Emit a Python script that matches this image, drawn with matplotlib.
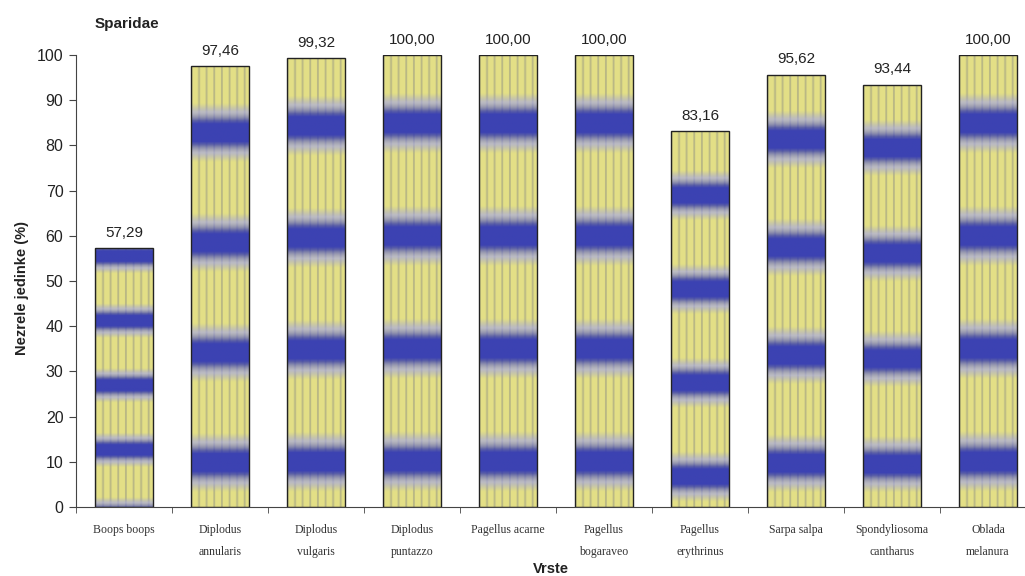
import numpy as np
import matplotlib.pyplot as plt
from matplotlib.patches import Rectangle

species = ["Boops boops", "Diplodus\nannularis", "Diplodus\nvulgaris", "Diplodus\npuntazzo",
           "Pagellus acarne", "Pagellus\nbogaraveo", "Pagellus\nerythrinus", "Sarpa salpa",
           "Spondyliosoma\ncantharus", "Oblada\nmelanura"]
immature_pct = [57.29, 97.46, 99.32, 100.00, 100.00, 100.00, 83.16, 95.62, 93.44, 100.00]

# band offset of the fill texture (fraction of bar height), per bar
band_phase = [-0.03, 0.1, 0.1, 0.1, 0.1, 0.1, 0.08, 0.1, 0.1, 0.1]

yellow = np.array([232, 228, 118]) / 255
stripe = np.array([140, 140, 115]) / 255
blue = np.array([60, 66, 178]) / 255
lavender = np.array([198, 198, 234]) / 255


def bar_texture(phase, nrows=400, ncols=60):
    t = np.linspace(0, 1, nrows)[:, None]          # 0 = bottom
    xx = np.linspace(0, 1, ncols)[None, :]
    # 4 blue bands over the bar height
    u = (t * 4 - phase * 4) % 1.0
    d = np.minimum(u, 1 - u)                          # distance to band centre
    w = np.clip((0.27 - d) / 0.19, 0, 1)
    w = w ** 1.3
    # vertical thin stripes
    s = np.clip(np.cos(2 * np.pi * xx * 7.5) * 2.0 - 1.0, 0, 1) * 0.6
    base = yellow * (1 - s[..., None]) + stripe * s[..., None]
    base = np.broadcast_to(base, (nrows, ncols, 3))
    mid = np.clip(1 - np.abs(w - 0.35) * 2.2, 0, 1)[..., None] * 0.6
    img = base * (1 - w[..., None]) + blue * w[..., None]
    img = img * (1 - mid) + lavender * mid
    return img[::-1]


fig = plt.figure(figsize=(10.25, 5.76), dpi=100)
ax = fig.add_axes([76 / 1025, 0.1198, 960 / 1025, 0.7847])

x = np.arange(len(species))
bw = 0.6
bars = ax.bar(x, immature_pct, width=bw, facecolor='none', edgecolor='#222222', linewidth=1.0, zorder=3)
for i, (b, v) in enumerate(zip(bars, immature_pct)):
    img = bar_texture(band_phase[i])
    im = ax.imshow(img, extent=[x[i] - bw / 2, x[i] + bw / 2, 0, v], aspect='auto',
                   interpolation='bilinear', zorder=2)
    clip = Rectangle((x[i] - bw / 2, 0), bw, v, transform=ax.transData)
    im.set_clip_path(clip)
    ax.annotate(f"{v:.2f}".replace('.', ','), (x[i], v), xytext=(0, 6), textcoords='offset points',
                ha='center', va='bottom', fontsize=11, family='Liberation Sans', color='#222222')

ax.set_xlim(-0.5, 9.5)
ax.set_ylim(0, 100)
ax.set_yticks(np.arange(0, 101, 10))
ax.set_xticks(x)
ax.set_xticklabels(species, family='Liberation Serif', fontsize=8.5, color='#333333', linespacing=2.1)
ax.set_xticks(np.arange(-0.5, 10, 1), minor=True)
ax.tick_params(axis='x', which='major', length=0, pad=12)
ax.tick_params(axis='x', which='minor', length=4, direction='out', color='#444444')
ax.tick_params(axis='y', length=5, color='#444444', labelsize=11.5, labelcolor='#222222', pad=4)
for lab in ax.get_yticklabels():
    lab.set_family('Liberation Sans')
ax.spines['top'].set_visible(False)
ax.spines['right'].set_visible(False)
ax.spines['left'].set_color('#444444')
ax.spines['bottom'].set_color('#444444')

fig.text(0.092, 0.952, 'Sparidae', fontsize=11, fontweight='bold', family='Liberation Sans', color='#222222')
fig.text(0.021, 0.5, 'Nezrele jedinke (%)', rotation=90, ha='center', va='center',
         fontsize=10.5, fontweight='bold', family='Liberation Sans', color='#222222')
fig.text(0.537, 0.0, 'Vrste', ha='center', va='bottom', fontsize=10.5, fontweight='bold',
         family='Liberation Sans', color='#222222')

fig.savefig('out.png', dpi=100)
